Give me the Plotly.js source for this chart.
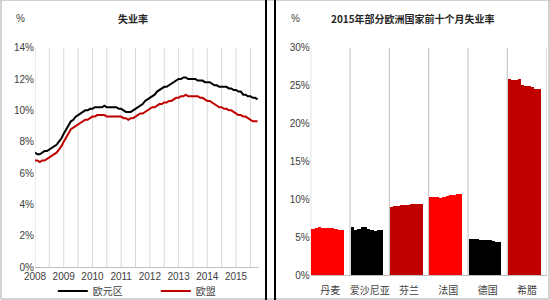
<!DOCTYPE html>
<html>
<head>
<meta charset="utf-8">
<script src="https://cdn.plot.ly/plotly-3.0.1.min.js"></script>
<style>html,body{margin:0;padding:0;background:#fff;}#chart{width:550px;height:300px;}</style>
</head>
<body>
<div id="chart"></div>
<script>
// ---- Data ----
const startYear = 2008;
const yearTicks = [2008, 2009, 2010, 2011, 2012, 2013, 2014, 2015];
const yTicksLeft = [0, 2, 4, 6, 8, 10, 12, 14];
const yTicksRight = [0, 5, 10, 15, 20, 25, 30];

// Monthly unemployment rate, Jan 2008 - Oct 2015 (%)
const euroArea = [
  7.3,7.2,7.2,7.3,7.4,7.4,7.5,7.6,7.7,7.8,8.0,8.2,
  8.5,8.8,9.1,9.3,9.4,9.6,9.7,9.8,9.9,10.0,10.0,10.1,
  10.1,10.2,10.2,10.2,10.2,10.3,10.2,10.2,10.2,10.2,10.2,10.1,
  10.1,10.0,9.9,9.9,9.9,10.0,10.1,10.2,10.3,10.4,10.6,10.7,
  10.8,10.9,11.0,11.2,11.3,11.4,11.5,11.5,11.6,11.7,11.8,11.9,
  12.0,12.0,12.1,12.1,12.0,12.0,12.0,12.0,11.9,11.9,11.9,11.8,
  11.8,11.8,11.7,11.6,11.6,11.5,11.5,11.5,11.5,11.4,11.4,11.3,
  11.3,11.2,11.2,11.0,11.0,10.9,10.9,10.8,10.8,10.7
];
const eu = [
  6.8,6.8,6.7,6.8,6.8,6.9,7.0,7.1,7.2,7.3,7.5,7.7,
  8.0,8.3,8.6,8.8,8.9,9.0,9.1,9.2,9.3,9.4,9.4,9.5,
  9.6,9.6,9.7,9.7,9.7,9.7,9.6,9.6,9.6,9.6,9.6,9.6,
  9.6,9.5,9.5,9.4,9.5,9.5,9.6,9.7,9.8,9.8,9.9,10.0,
  10.1,10.2,10.2,10.3,10.4,10.4,10.5,10.5,10.6,10.6,10.7,10.8,
  10.8,10.9,10.9,11.0,10.9,10.9,10.9,10.9,10.9,10.8,10.8,10.7,
  10.6,10.6,10.5,10.4,10.3,10.2,10.2,10.1,10.1,10.0,10.0,9.9,
  9.8,9.7,9.7,9.6,9.6,9.5,9.4,9.3,9.3,9.3
];

// 2015 first ten months (%)
const countries = ['丹麦', '爱沙尼亚', '芬兰', '法国', '德国', '希腊'];
const denmark = [6.1,6.2,6.3,6.2,6.2,6.2,6.2,6.1,6.0,5.9];
const estonia = [6.3,6.0,6.1,6.4,6.3,6.1,5.9,5.8,5.9,6.0];
const finland = [9.0,9.1,9.1,9.2,9.3,9.3,9.4,9.4,9.4,9.4];
const france  = [10.3,10.3,10.3,10.2,10.3,10.4,10.5,10.6,10.7,10.7];
const germany = [4.7,4.7,4.7,4.6,4.6,4.6,4.6,4.5,4.4,4.4];
const greece  = [25.9,25.8,25.8,25.9,25.1,24.9,24.9,24.8,24.6,24.5];

// ---- Styles ----
const countrySeries = [denmark, estonia, finland, france, germany, greece];
const countryColors = ['#ff0000', '#000000', '#c00000', '#ff0000', '#000000', '#c00000'];
const FONT = 'Liberation Sans Narrow, Liberation Sans, Noto Sans CJK SC, sans-serif';
const CJK = 'Noto Sans CJK SC, sans-serif';
const tickColor = '#404040';

const monthX = euroArea.map((_, i) => startYear + i / 12);

const traces = [
  {x: monthX, y: euroArea, type: 'scatter', mode: 'lines', name: '欧元区',
   line: {color: '#000000', width: 2}, xaxis: 'x', yaxis: 'y'},
  {x: monthX, y: eu, type: 'scatter', mode: 'lines', name: '欧盟',
   line: {color: '#c00000', width: 2}, xaxis: 'x', yaxis: 'y'}
];

const blockFrac = 0.83, blockStart = 0.02;
const bw = blockFrac / 10;
countrySeries.forEach((vals, ci) => {
  traces.push({
    type: 'bar', x: vals.map((_, j) => ci + blockStart + (j + 0.5) * bw), y: vals,
    width: bw * 1.02, marker: {color: countryColors[ci], line: {width: 0}},
    showlegend: false, xaxis: 'x2', yaxis: 'y2', hoverinfo: 'y'
  });
});

const leftGrid = [];
for (let k = 0; k <= 15; k++) leftGrid.push(startYear + k * 0.5);

const layout = {
  width: 550, height: 300,
  margin: {l: 0, r: 0, t: 0, b: 0, autoexpand: false},
  paper_bgcolor: '#ffffff', plot_bgcolor: '#ffffff',
  font: {family: FONT, size: 10, color: tickColor},
  bargap: 0,
  showlegend: true,
  legend: {orientation: 'h', x: 0.096, y: 1 - 291/300, xanchor: 'left', yanchor: 'middle',
           entrywidth: 58, entrywidthmode: 'pixels', itemwidth: 30,
           font: {family: CJK, size: 10, color: '#404040'}, bgcolor: 'rgba(0,0,0,0)'},
  xaxis: {domain: [35/550, 259/550], range: [2008, 2015.8], automargin: false,
          tickvals: yearTicks, ticktext: yearTicks.map(String), ticks: '',
          showgrid: false, zeroline: false, showline: true, linecolor: '#bfbfbf', linewidth: 1,
          tickfont: {size: 10, color: tickColor, family: FONT}, fixedrange: true},
  yaxis: {domain: [1 - 267/300, 1 - 47.7/300], range: [0, 14], automargin: false,
          tickvals: yTicksLeft, ticktext: yTicksLeft.map(v => v + '%'), ticks: '',
          showgrid: false, zeroline: false, showline: false,
          tickfont: {size: 10, color: tickColor, family: FONT}, fixedrange: true},
  xaxis2: {domain: [310.7/550, 546.6/550], range: [0, 6], anchor: 'y2', automargin: false,
           tickvals: countries.map((_, i) => i + 0.5), ticktext: countries, ticks: '',
           ticklabelstandoff: 6,
           showgrid: false, zeroline: false, showline: true, linecolor: '#bfbfbf', linewidth: 1,
           tickfont: {size: 10, color: tickColor, family: CJK}, fixedrange: true},
  yaxis2: {domain: [1 - 275/300, 1 - 47.7/300], range: [0, 30], anchor: 'x2', automargin: false,
           tickvals: yTicksRight, ticktext: yTicksRight.map(v => v + '%'), ticks: '',
           showgrid: false, zeroline: false, showline: false,
           tickfont: {size: 10, color: tickColor, family: FONT}, fixedrange: true},
  shapes: [],
  annotations: [
    {text: '%', x: 20/550, y: 1 - 18/300, xref: 'paper', yref: 'paper', showarrow: false,
     xanchor: 'center', yanchor: 'middle', font: {size: 10, color: '#404040', family: FONT}},
    {text: '<b>失业率</b>', x: 133/550, y: 1 - 18/300, xref: 'paper', yref: 'paper', showarrow: false,
     xanchor: 'center', yanchor: 'middle', font: {size: 10, color: '#262626', family: CJK}},
    {text: '%', x: 295/550, y: 1 - 18/300, xref: 'paper', yref: 'paper', showarrow: false,
     xanchor: 'center', yanchor: 'middle', font: {size: 10, color: '#404040', family: FONT}},
    {text: '<b>2015年部分欧洲国家前十个月失业率</b>', x: 413/550, y: 1 - 18/300, xref: 'paper', yref: 'paper', showarrow: false,
     xanchor: 'center', yanchor: 'middle', font: {size: 10, color: '#262626', family: CJK}}
  ]
};

leftGrid.forEach(g => layout.shapes.push({type: 'line', xref: 'x', yref: 'y', x0: g, x1: g, y0: 0, y1: 14,
  line: {color: '#d9d9d9', width: 1}, layer: 'below'}));
for (let c = 0; c <= 6; c++) layout.shapes.push({type: 'line', xref: 'x2', yref: 'y2', x0: c, x1: c, y0: 0, y1: 30,
  line: {color: '#bfbfbf', width: 1}, layer: 'below'});
layout.shapes.push({type: 'rect', xref: 'paper', yref: 'paper', x0: 1/550, x1: 549/550, y0: 1/300, y1: 1,
  line: {color: '#a6a6a6', width: 1}});
layout.shapes.push({type: 'line', xref: 'paper', yref: 'paper', x0: 266/550, x1: 266/550, y0: 0, y1: 1,
  line: {color: '#000000', width: 2}});
layout.shapes.push({type: 'line', xref: 'paper', yref: 'paper', x0: 275/550, x1: 275/550, y0: 0, y1: 1,
  line: {color: '#000000', width: 2}});

Plotly.newPlot('chart', traces, layout, {staticPlot: true, displayModeBar: false});
</script>
</body>
</html>
